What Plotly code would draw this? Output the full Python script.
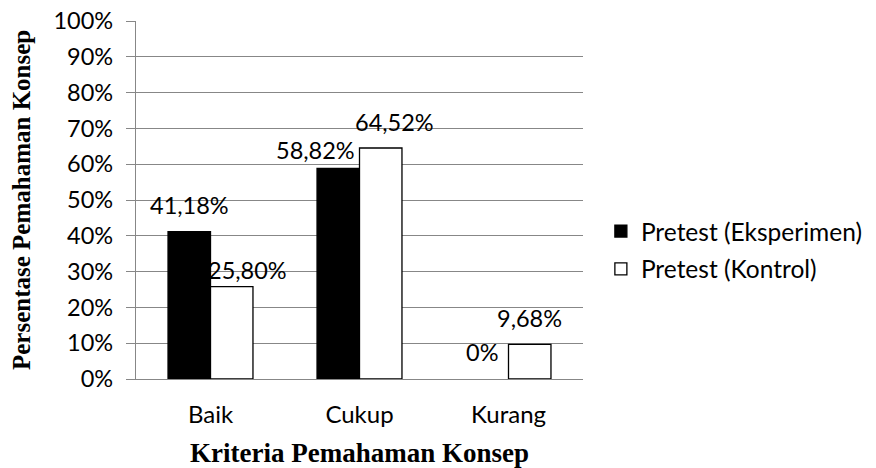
import plotly.graph_objects as go

categories = ["Baik", "Cukup", "Kurang"]
eksperimen = [0.4118, 0.5882, 0.0]
kontrol = [0.2580, 0.6452, 0.0968]
eksperimen_labels = ["41,18%", "58,82%", "0%"]
kontrol_labels = ["25,80%", "64,52%", "9,68%"]
y_ticks = [i / 10 for i in range(11)]
y_tick_labels = [f"{i * 10}%" for i in range(11)]

FONT = "Lato, 'Open Sans', sans-serif"
SERIF = "'Liberation Serif', 'Times New Roman', serif"
GRID = "#878787"

fig = go.Figure()
fig.add_trace(go.Bar(
    x=categories, y=eksperimen, name="Pretest (Eksperimen)",
    marker=dict(color="black", line=dict(color="black", width=[1.3, 1.3, 0])),
    legendgroup="a",
))
fig.add_trace(go.Bar(
    x=categories, y=kontrol, name="Pretest (Kontrol)",
    marker=dict(color="white", line=dict(color="black", width=1.3)),
    legendgroup="b",
))

# data labels (manually offset like the original)
half = 21.25
eks_shift = [(0, 27), (-23, 18), (-5, 27)]
kon_shift = [(16, 17), (14, 26), (0, 26)]
for cat, val, lab, (dx, dy) in zip(categories, eksperimen, eksperimen_labels, eks_shift):
    fig.add_annotation(x=cat, y=val, xref="x", yref="y", text=lab, showarrow=False,
                       xshift=-half + dx, yshift=dy, yanchor="middle",
                       font=dict(family=FONT, size=23.5, color="black"))
for cat, val, lab, (dx, dy) in zip(categories, kontrol, kontrol_labels, kon_shift):
    fig.add_annotation(x=cat, y=val, xref="x", yref="y", text=lab, showarrow=False,
                       xshift=half + dx, yshift=dy, yanchor="middle",
                       font=dict(family=FONT, size=23.5, color="black"))

# axis titles
fig.add_annotation(x=0.5, y=0, xref="paper", yref="paper", text="<b>Kriteria Pemahaman Konsep</b>",
                   showarrow=False, yshift=-74, yanchor="middle",
                   font=dict(family=SERIF, size=27, color="black"))
fig.add_annotation(x=0, y=0.5, xref="paper", yref="paper", text="<b>Persentase Pemahaman Konsep</b>",
                   showarrow=False, xshift=-115, xanchor="center", textangle=-90,
                   font=dict(family=SERIF, size=25, color="black"))

fig.update_layout(
    width=876, height=468,
    margin=dict(l=136, r=293, t=21, b=89, autoexpand=False),
    paper_bgcolor="white", plot_bgcolor="white",
    barmode="group", bargap=0.43, bargroupgap=0,
    font=dict(family=FONT, size=23.5, color="black"),
    legend=dict(x=1.04, y=0.36, xanchor="left", yanchor="middle",
                font=dict(family=FONT, size=24.5, color="black"),
                tracegroupgap=3, bgcolor="rgba(0,0,0,0)"),
    showlegend=True,
)
fig.update_xaxes(showline=True, linecolor=GRID, linewidth=1.3, ticks="",
                 showgrid=False, ticklabelstandoff=14,
                 tickfont=dict(family=FONT, size=24, color="black"))
fig.update_yaxes(range=[0, 1], tickvals=y_ticks, ticktext=y_tick_labels,
                 showline=True, linecolor=GRID, linewidth=1.3,
                 showgrid=True, gridcolor=GRID, gridwidth=1.3, zeroline=False,
                 ticks="outside", ticklen=9, tickcolor=GRID, tickwidth=1.3,
                 ticklabelstandoff=8,
                 tickfont=dict(family=FONT, size=23.5, color="black"))

fig.write_html("out.html")
